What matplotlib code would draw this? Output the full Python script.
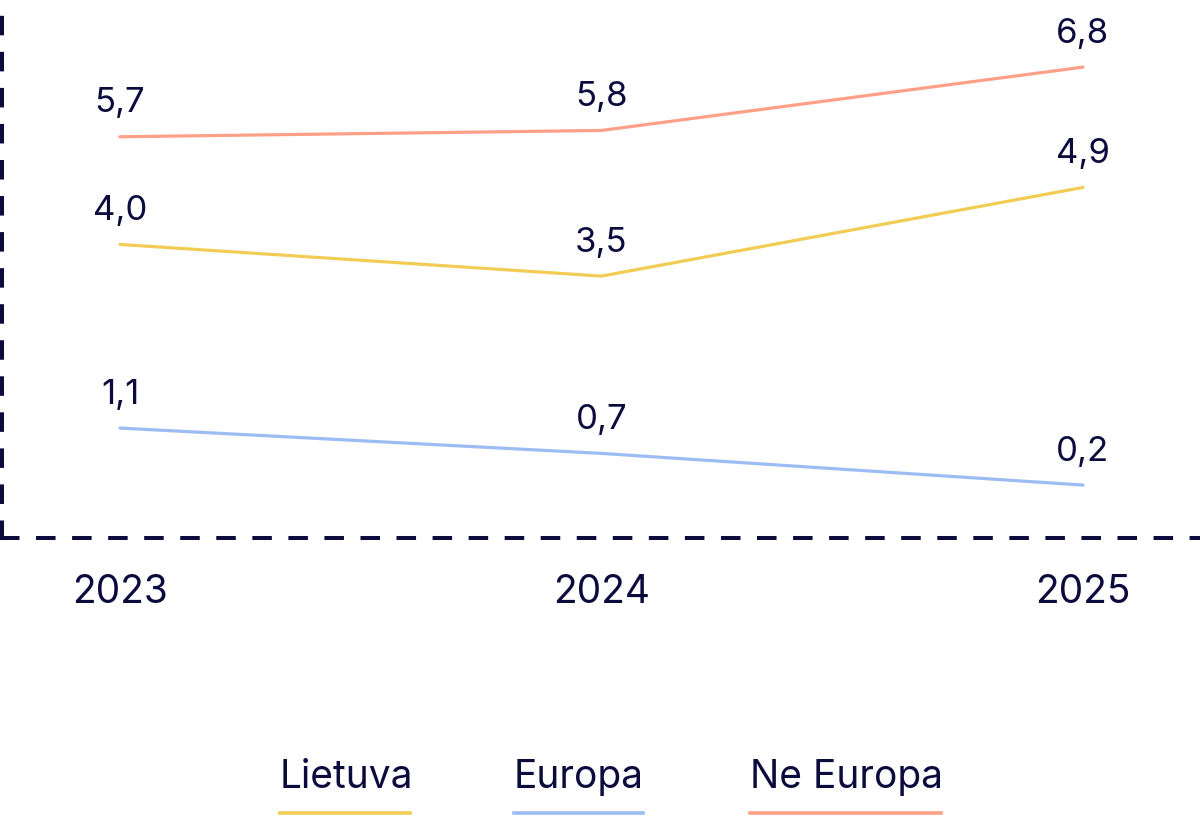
import numpy as np
import matplotlib.pyplot as plt
from matplotlib.lines import Line2D

# data
years = [2023, 2024, 2025]
lietuva = [4.0, 3.5, 4.9]
europa = [1.1, 0.7, 0.2]
ne_europa = [5.7, 5.8, 6.8]
series_names = ["Lietuva", "Europa", "Ne Europa"]

navy = "#0B0B3D"
yellow = "#F2CC55"
blue = "#9CBDF3"
salmon = "#FFA087"

plt.rcParams['font.family'] = ['Inter', 'DejaVu Sans']

fig = plt.figure(figsize=(12, 8.17), dpi=100)
ax = fig.add_axes([2/1200, 1 - 538/817, 1 - 2/1200, 538/817])

series = [lietuva, europa, ne_europa]
colors = [yellow, blue, salmon]
for vals, c in zip(series, colors):
    ax.plot(years, vals, color=c, lw=2.3, solid_capstyle='round')
    for x, v in zip(years, vals):
        ax.annotate(f"{v:.1f}".replace(".", ","), (x, v), xytext=(0, 24),
                    textcoords='offset points', ha='center', va='center',
                    fontsize=25, color=navy)

ax.set_xlim(2022.755, 2025.243)
ax.set_ylim(-0.636, 7.86)
ax.set_xticks(years)
ax.set_xticklabels([str(y) for y in years], fontsize=28, color=navy)
ax.tick_params(axis='x', length=0, pad=26)
ax.set_yticks([])

for side in ['top', 'right']:
    ax.spines[side].set_visible(False)
for side in ['left', 'bottom']:
    ax.spines[side].set_color(navy)
    ax.spines[side].set_linewidth(2.9)
    ax.spines[side].set_linestyle((0, (3.85, 5.1)))

# custom legend: label text above a coloured bar
leg_x = [280, 514, 750]
leg_w = [130, 129, 191]
for name, c, x0, w in zip(series_names, colors, leg_x, leg_w):
    fig.text(x0/1200, 1 - 777/817, name, fontsize=28, color=navy,
             ha='left', va='center')
    fig.add_artist(Line2D([x0/1200, (x0 + w)/1200], [1 - 813/817, 1 - 813/817],
                          color=c, lw=2.6, transform=fig.transFigure))

fig.savefig("out.png", dpi=100)
